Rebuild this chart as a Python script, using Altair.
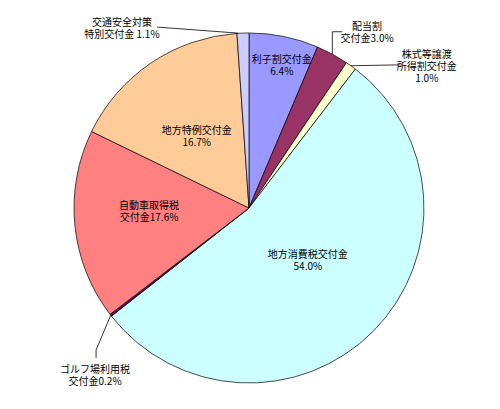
import math
import altair as alt
import pandas as pd

# ---- data ----
categories = ["利子割交付金", "配当割交付金", "株式等譲渡所得割交付金", "地方消費税交付金",
              "ゴルフ場利用税交付金", "自動車取得税交付金", "地方特例交付金", "交通安全対策特別交付金"]
values = [6.4, 3.0, 1.0, 54.0, 0.2, 17.6, 16.7, 1.1]
label_texts = ["利子割交付金\n6.4%", "配当割\n交付金3.0%", "株式等譲渡\n所得割交付金\n1.0%",
               "地方消費税交付金\n54.0%", "ゴルフ場利用税\n交付金0.2%", "自動車取得税\n交付金17.6%",
               "地方特例交付金\n16.7%", "交通安全対策\n特別交付金 1.1%"]
colors = ["#9999FF", "#993366", "#FFFFCC", "#CCFFFF", "#660066", "#FF8080", "#FFCC99", "#CCCCFF"]

# ---- layout ----
CX, CY, R = 241, 200, 175
FONT = "Noto Sans CJK JP"
LH = 12
# label placement (first text line): (angle deg clockwise from top, radius px)
label_polar = {
    "利子割交付金": (12.3, 154),
    "配当割交付金": (32.8, 218),
    "株式等譲渡所得割交付金": (48.9, 236),
    "地方消費税交付金": (127.3, 74),
    "ゴルフ場利用税交付金": (223.9, 222),
    "自動車取得税交付金": (272.3, 100),
    "地方特例交付金": (326.6, 95),
    "交通安全対策特別交付金": (325.8, 226),
}

df = pd.DataFrame({"cat": categories, "value": values, "label": label_texts,
                   "order": list(range(len(values)))})
total = sum(values)
cum = 0.0
mids = []
for v in values:
    mids.append((cum + v / 2) / total * 360.0)
    cum += v

lx, ly = [], []
for c in categories:
    ang, r = label_polar[c]
    a = math.radians(ang)
    lx.append(CX + r * math.sin(a))
    ly.append(CY - r * math.cos(a))
df["lx"] = lx
df["ly"] = ly

def edge(m):
    a = math.radians(m)
    return CX + R * math.sin(a), CY - R * math.cos(a)

lines = []
for c, m, x0, y0 in zip(categories, mids, lx, ly):
    ex, ey = edge(m)
    if c == "交通安全対策特別交付金":
        pts = [(ex - 5, ey), (x0 + 35, y0 + 6)]
    elif c == "配当割交付金":
        pts = [(ex, ey), (ex, y0 + 7), (ex + 10, y0 + 7)]
    elif c == "株式等譲渡所得割交付金":
        pts = [(ex, ey), (x0 - 27, y0 + 12)]
    elif c == "ゴルフ場利用税交付金":
        pts = [(ex, ey), (x0 + 1, y0 - 18), (x0 + 1, y0 - 10)]
    else:
        continue
    for i, (px, py) in enumerate(pts):
        lines.append({"cat": c, "i": i, "x": px, "y": py})
ldf = pd.DataFrame(lines)

pie = alt.Chart(df).mark_arc(stroke="#000000", strokeWidth=0.7, radius=R).encode(
    theta=alt.Theta("value:Q", stack=True),
    color=alt.Color("cat:N", scale=alt.Scale(domain=categories, range=colors), legend=None),
    order=alt.Order("order:Q"),
    x=alt.value(CX),
    y=alt.value(CY),
)

leaders = alt.Chart(ldf).mark_line(color="#000000", strokeWidth=0.8).encode(
    x=alt.X("x:Q", scale=None),
    y=alt.Y("y:Q", scale=None),
    detail="cat:N",
    order="i:Q",
)

texts = alt.Chart(df).mark_text(font=FONT, fontSize=10, lineBreak="\n", lineHeight=LH,
                                align="center", baseline="middle", dy=2,
                                color="#000000").encode(
    x=alt.X("lx:Q", scale=None),
    y=alt.Y("ly:Q", scale=None),
    text="label:N",
)

chart = alt.layer(pie, leaders, texts).properties(
    width=484, height=393,
    autosize=alt.AutoSizeParams(type="none"),
    padding=0,
    background="#ffffff",
).configure_view(stroke=None)

chart.save("out.html", embed_options={"renderer": "svg", "actions": False})
